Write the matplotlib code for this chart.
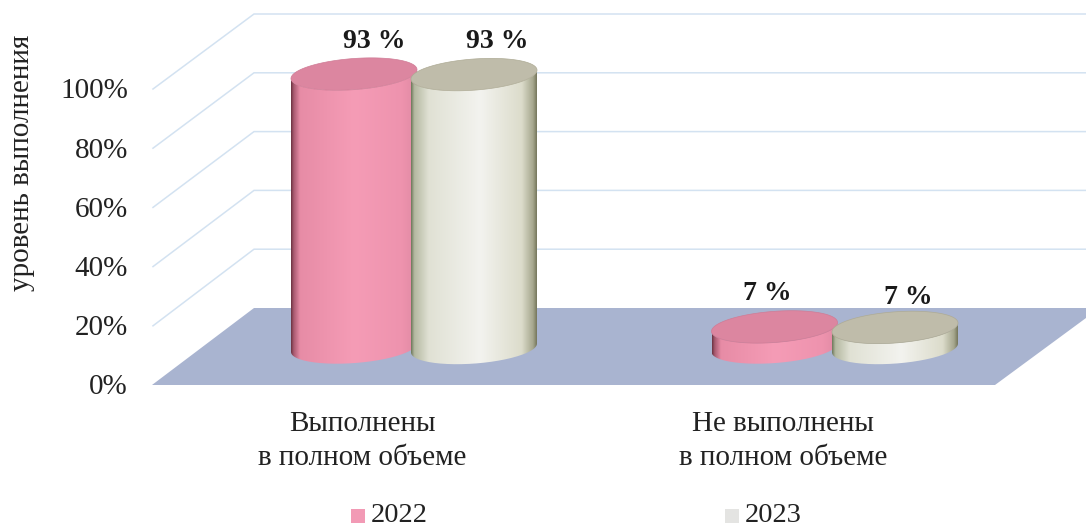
import numpy as np
import matplotlib
matplotlib.use("Agg")
import matplotlib.pyplot as plt
from matplotlib.colors import LinearSegmentedColormap
from matplotlib.patches import PathPatch, Polygon, Rectangle
from matplotlib.path import Path

plt.rcParams['font.family'] = ['Liberation Serif', 'DejaVu Serif']

categories = ["Выполнены\nв полном объеме", "Не выполнены\nв полном объеме"]
series_names = ["2022", "2023"]
values_2022 = [93, 7]
values_2023 = [93, 7]
value_labels_2022 = ["93 %", "7 %"]
value_labels_2023 = ["93 %", "7 %"]
tick_values = [0, 20, 40, 60, 80, 100]
y_axis_title = "уровень выполнения"

fig = plt.figure(figsize=(10.86, 5.28), dpi=100, facecolor="white")
ax = fig.add_axes([0, 0, 1, 1])

TEXT = "#222222"
GRID = "#d3e2f1"
FLOOR = "#a9b4d0"


def front_y(v):
    return 385 - 2.96 * v


def back_y(v):
    return 308 - 2.94 * v


# floor
ax.add_patch(Polygon([(152, 385), (254, 308), (1086, 308), (1086, 318), (995, 385)],
                     closed=True, fc=FLOOR, ec="none", zorder=2))

# walls: gridlines
for v in tick_values[1:]:
    ax.plot([153, 254, 1086], [front_y(v), back_y(v), back_y(v)], color=GRID, lw=1.1,
            zorder=1, solid_joinstyle="miter")

# y ticks
for v in tick_values:
    ax.text(128, front_y(v) + 2.5, f"{v}%", ha="right", va="center", fontsize=21, color=TEXT)

ax.text(22, 163, y_axis_title, rotation=90, ha="center", va="center", fontsize=21, color=TEXT)

TILT = 0.075
RX, RY = 63, 15.5


def ellipse_pts(cx, cy, t):
    c, s = np.cos(t), np.sin(t)
    return np.column_stack([cx + RX * c + RY * TILT * s,
                            cy - RX * TILT * c + RY * s])


def cylinder(cx, base_y, value, cmap, top_color, rim_color, z):
    top_y = base_y - 2.94 * value
    lower = np.linspace(0, np.pi, 80)
    bottom_arc = ellipse_pts(cx, base_y, lower)
    top_arc = ellipse_pts(cx, top_y, lower[::-1])
    body = np.vstack([bottom_arc, top_arc, bottom_arc[:1]])
    grad = np.linspace(0, 1, 256)[None, :]
    im = ax.imshow(grad, cmap=cmap, extent=(cx - RX, cx + RX, base_y + RY + 6, top_y - RY - 6),
                   aspect="auto", zorder=z, interpolation="bilinear")
    patch = PathPatch(Path(body), fc="none", ec="none", transform=ax.transData, zorder=z)
    ax.add_patch(patch)
    im.set_clip_path(patch)
    all_t = np.linspace(0, 2 * np.pi, 160)
    ax.add_patch(Polygon(ellipse_pts(cx, top_y, all_t), closed=True, fc=top_color,
                         ec=rim_color, lw=0.5, zorder=z + 0.1))


pink = LinearSegmentedColormap.from_list("pink3d", [
    (0.0, "#6d3443"), (0.02, "#a85a70"), (0.07, "#e78ca6"), (0.5, "#f59cb6"),
    (0.88, "#ee93ae"), (1.0, "#e08aa3")])
grey = LinearSegmentedColormap.from_list("grey3d", [
    (0.0, "#6f7a5c"), (0.025, "#b4b8a0"), (0.14, "#e0e1d4"), (0.55, "#f3f3ef"),
    (0.88, "#dcdccb"), (0.97, "#a6a78e"), (1.0, "#77785e")])

centers_2022 = [354, 774.5]
centers_2023 = [474, 895]
base_y_2022 = 347.5
base_y_2023 = 348
label_x_2022 = [374, 767]
label_x_2023 = [497, 908]

z = 5
for i in range(len(categories)):
    cylinder(centers_2022[i], base_y_2022, values_2022[i], pink, "#dc86a0", "#cf7c96", z)
    cylinder(centers_2023[i], base_y_2023, values_2023[i], grey, "#bfbcaa", "#aeab95", z + 1)
    z += 2

# value labels
label_kw = dict(ha="center", va="center", fontsize=20, fontweight="bold", color="#1a1a1a", zorder=20)
ax.text(label_x_2022[0], 41, value_labels_2022[0], **label_kw)
ax.text(label_x_2023[0], 41, value_labels_2023[0], **label_kw)
ax.text(label_x_2022[1], 294, value_labels_2022[1], **label_kw)
ax.text(label_x_2023[1], 297, value_labels_2023[1], **label_kw)

# category labels
cat_x = [362, 783]
for x, c in zip(cat_x, categories):
    ax.text(x, 441, c, ha="center", va="center", fontsize=21, color=TEXT, linespacing=1.4)

# legend
legend_x = [351, 725]
legend_text_x = [371, 745]
legend_colors = ["#f29ab5", "#e4e4e2"]
for x, tx, name, col in zip(legend_x, legend_text_x, series_names, legend_colors):
    ax.add_patch(Rectangle((x, 509), 14, 14, fc=col, ec="none"))
    ax.text(tx, 521.5, name, ha="left", va="baseline", fontsize=20.5, color=TEXT)

ax.set_xlim(0, 1086)
ax.set_ylim(528, 0)
ax.axis("off")
fig.savefig("out.png", dpi=100, facecolor="white")
